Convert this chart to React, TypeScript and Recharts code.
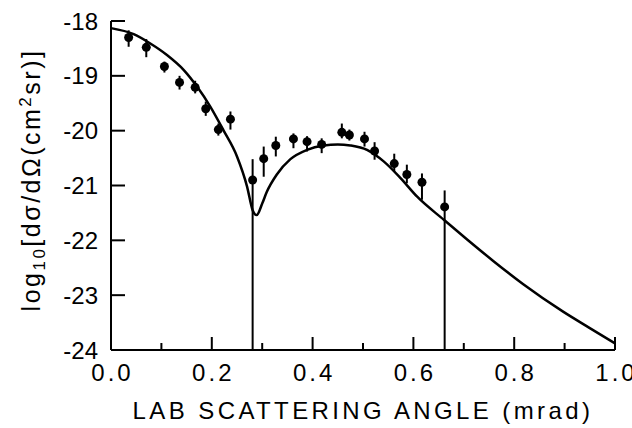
import React from 'react';
import { ComposedChart, Line, Scatter, ErrorBar, XAxis, YAxis } from 'recharts';

// theory curve
const curveAngle = [0, 0.045, 0.078, 0.111, 0.144, 0.171, 0.197, 0.223, 0.25, 0.27, 0.281, 0.289, 0.3, 0.309, 0.329, 0.356, 0.389, 0.422, 0.45, 0.475, 0.508, 0.541, 0.574, 0.607, 0.661, 0.706, 0.759, 0.818, 0.897, 0.95, 1.0];
const curveLog = [-18.13, -18.24, -18.41, -18.62, -18.89, -19.2, -19.56, -19.99, -20.47, -21.02, -21.45, -21.54, -21.33, -21.12, -20.8, -20.52, -20.35, -20.27, -20.25, -20.27, -20.35, -20.56, -20.86, -21.2, -21.63, -21.98, -22.38, -22.8, -23.3, -23.6, -23.88];

// measured points with error bars (down, up)
const pointAngle = [0.035, 0.07, 0.106, 0.136, 0.167, 0.188, 0.213, 0.237, 0.281, 0.303, 0.327, 0.362, 0.389, 0.418, 0.458, 0.473, 0.503, 0.523, 0.562, 0.587, 0.617, 0.662];
const pointLog = [-18.3, -18.48, -18.83, -19.12, -19.21, -19.6, -19.98, -19.79, -20.9, -20.51, -20.27, -20.15, -20.2, -20.25, -20.03, -20.08, -20.15, -20.37, -20.6, -20.8, -20.94, -21.39];
const errDown = [0.17, 0.18, 0.11, 0.13, 0.11, 0.13, 0.11, 0.19, 3.1, 0.33, 0.2, 0.17, 0.18, 0.16, 0.11, 0.1, 0.14, 0.16, 0.15, 0.16, 0.32, 2.61];
const errUp = [0.13, 0.15, 0.09, 0.12, 0.12, 0.13, 0.11, 0.14, 0.38, 0.22, 0.16, 0.1, 0.1, 0.11, 0.16, 0.1, 0.13, 0.16, 0.18, 0.18, 0.16, 0.3];

const xTicks = [0, 0.1, 0.2, 0.3, 0.4, 0.5, 0.6, 0.7, 0.8, 0.9, 1.0];
const yTicks = [-24, -23, -22, -21, -20, -19, -18];

const curveData = curveAngle.map((x, i) => ({ x, y: curveLog[i] }));
const pointData = pointAngle.map((x, i) => ({ x, y: pointLog[i], err: [errDown[i], errUp[i]] }));

const FONT = '"Liberation Sans", Arial, sans-serif';
const AXIS = { stroke: '#000', strokeWidth: 2 };

const isMajor = (v: number) => Math.round(v * 10) % 2 === 0;

const BottomTick = ({ x, y, payload }: any) => (
  <g>
    <line x1={x} y1={y} x2={x} y2={y - (isMajor(payload.value) ? 13 : 7)} stroke="#000" strokeWidth={2} />
    {isMajor(payload.value) && (
      <text x={x + 1.5} y={y + 31} textAnchor="middle" fontSize={24} letterSpacing={3} fontFamily={FONT} fill="#000">
        {payload.value.toFixed(1)}
      </text>
    )}
  </g>
);

const TopTick = ({ x, y, payload }: any) => (
  <line x1={x} y1={y} x2={x} y2={y + (isMajor(payload.value) ? 13 : 7)} stroke="#000" strokeWidth={2} />
);

const LeftTick = ({ x, y, payload }: any) => (
  <g>
    <line x1={x} y1={y} x2={x + 14} y2={y} stroke="#000" strokeWidth={2} />
    <text x={x - 13} y={y + 8.5} textAnchor="end" fontSize={24} fontFamily={FONT} fill="#000">
      {payload.value}
    </text>
  </g>
);

const RightTick = ({ x, y }: any) => (
  <line x1={x} y1={y} x2={x - 15} y2={y} stroke="#000" strokeWidth={2} />
);

const Dot = (p: any) => <circle cx={p.cx} cy={p.cy} r={4.5} fill="#000" />;

const XTitle = () => (
  <text x={363} y={419} textAnchor="middle" fontSize={24} letterSpacing={3.4} fontFamily={FONT} fill="#000">
    LAB SCATTERING ANGLE (mrad)
  </text>
);

const YTitle = () => (
  <text x={40} y={180} transform="rotate(-90, 40, 180)" textAnchor="middle" fontSize={25} letterSpacing={2.5} fontFamily={FONT} fill="#000">
    log<tspan fontSize={17} dy={5}>10</tspan>
    <tspan dy={-5}>[dσ/dΩ(cm</tspan>
    <tspan fontSize={17} dy={-9}>2</tspan>
    <tspan dy={9}>sr)]</tspan>
  </text>
);

export default function App() {
  return (
    <div style={{ position: 'absolute', left: 0, top: 0, width: 632, height: 428, background: '#fff' }}>
      <ComposedChart width={632} height={428} margin={{ top: 21, right: 17, bottom: 0, left: 0 }}>
        <XAxis
          type="number"
          dataKey="x"
          domain={[0, 1]}
          ticks={xTicks}
          interval={0}
          height={78}
          axisLine={AXIS}
          tickLine={false}
          tickSize={0}
          tickMargin={0}
          tick={BottomTick}
          label={{ content: XTitle }}
        />
        <XAxis
          xAxisId="top"
          orientation="top"
          type="number"
          domain={[0, 1]}
          ticks={xTicks}
          interval={0}
          height={0}
          axisLine={AXIS}
          tickLine={false}
          tickSize={0}
          tickMargin={0}
          tick={TopTick}
        />
        <YAxis
          type="number"
          dataKey="y"
          domain={[-24, -18]}
          ticks={yTicks}
          interval={0}
          width={111}
          axisLine={AXIS}
          tickLine={false}
          tickSize={0}
          tickMargin={0}
          tick={LeftTick}
          label={{ content: YTitle }}
        />
        <YAxis
          yAxisId="right"
          orientation="right"
          type="number"
          domain={[-24, -18]}
          ticks={yTicks}
          interval={0}
          width={0}
          axisLine={AXIS}
          tickLine={false}
          tickSize={0}
          tickMargin={0}
          tick={RightTick}
        />
        <Line
          data={curveData}
          dataKey="y"
          type="monotone"
          dot={false}
          stroke="#000"
          strokeWidth={2.5}
          isAnimationActive={false}
        />
        <Scatter data={pointData} dataKey="y" shape={Dot} isAnimationActive={false}>
          <ErrorBar dataKey="err" direction="y" width={0} stroke="#000" strokeWidth={2} isAnimationActive={false} />
        </Scatter>
      </ComposedChart>
    </div>
  );
}
